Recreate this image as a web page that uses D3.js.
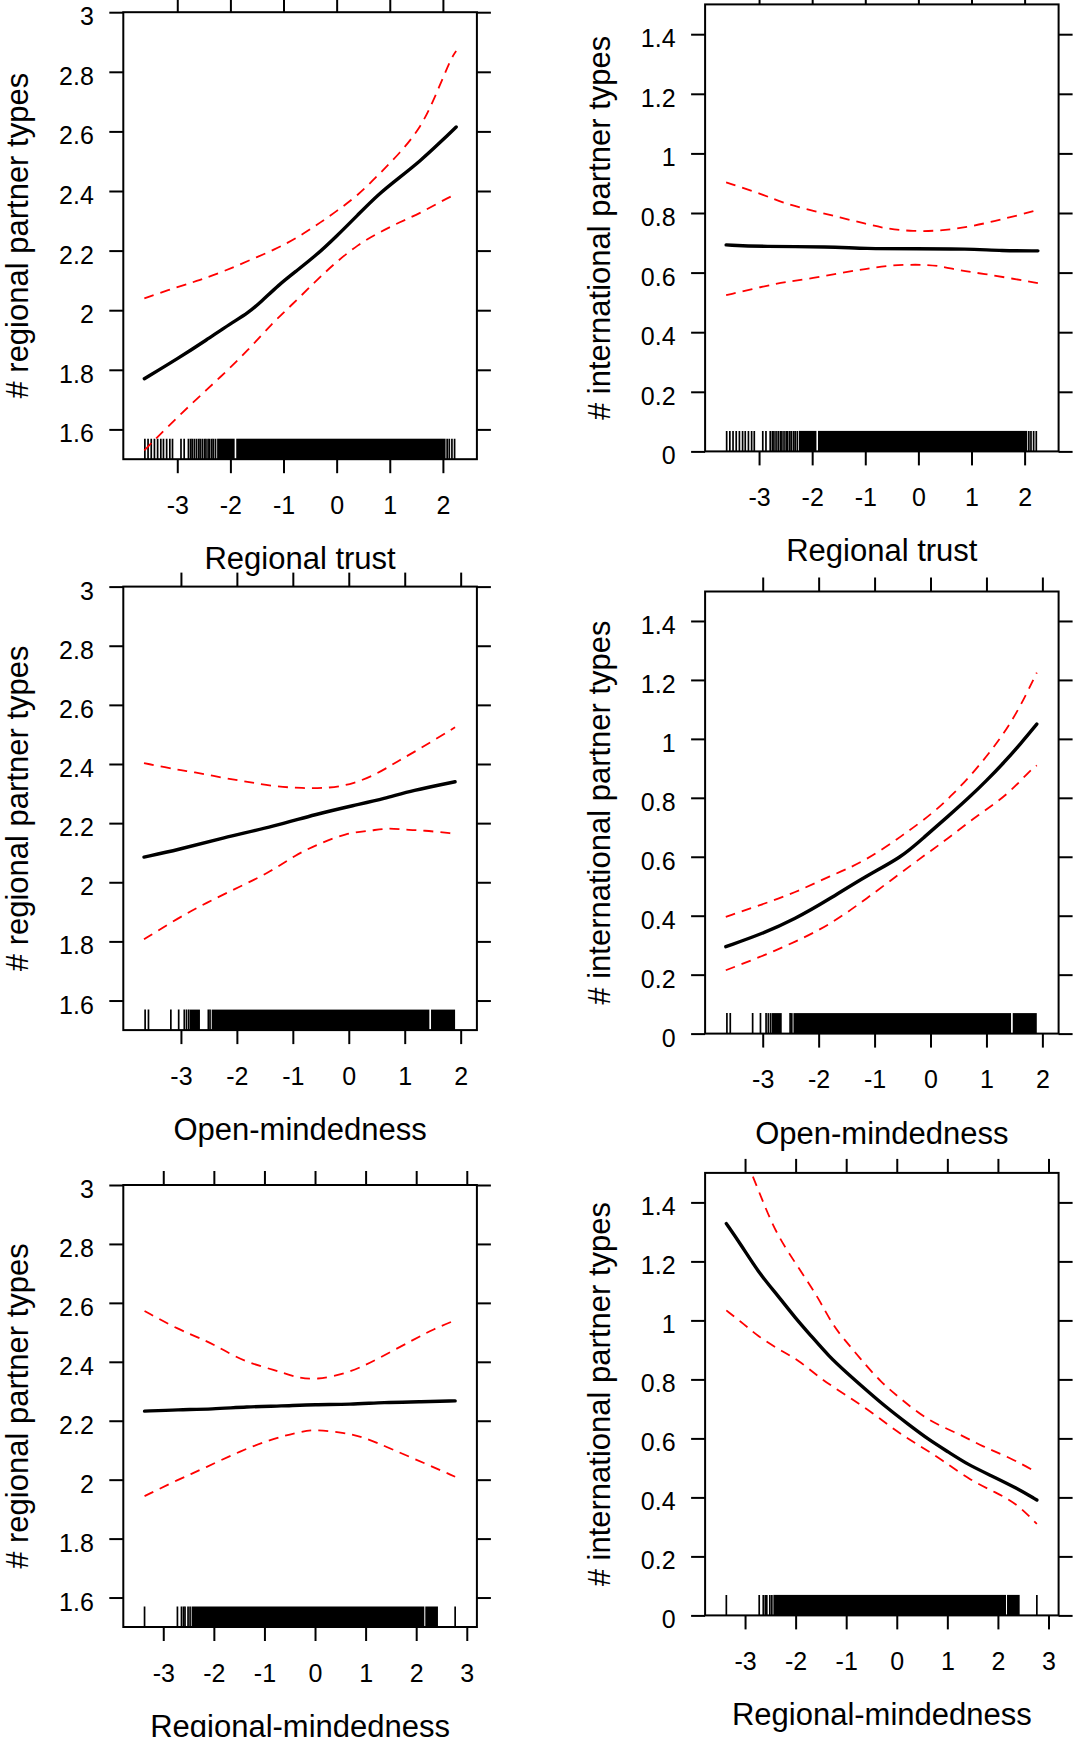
<!DOCTYPE html>
<html>
<head>
<meta charset="utf-8">
<script src="https://cdn.jsdelivr.net/npm/d3@7"></script>
<style>
  body { margin: 0; background: #fff; }
</style>
</head>
<body>
<div id="chart"></div>
<script>
// tick labels
var trustTicks = [-3, -2, -1, 0, 1, 2];
var openTicks = [-3, -2, -1, 0, 1, 2];
var regmindTicks = [-3, -2, -1, 0, 1, 2, 3];
var regionalYTicks = [1.6, 1.8, 2, 2.2, 2.4, 2.6, 2.8, 3];
var internationalYTicks = [0, 0.2, 0.4, 0.6, 0.8, 1, 1.2, 1.4];

// regional trust -> # regional partner types  [x, y]
var trustRegFit = [[-3.62,1.77],[-2.97,1.84],[-2.45,1.90],[-2.00,1.955],[-1.67,1.99],[-1.41,2.03],[-1.09,2.085],[-0.77,2.13],[-0.38,2.185],[-0.02,2.245],[0.40,2.32],[0.79,2.39],[1.18,2.445],[1.57,2.50],[1.96,2.565],[2.25,2.615]];
var trustRegUpper = [[-3.62,2.04],[-2.97,2.08],[-2.58,2.10],[-2.13,2.13],[-1.67,2.165],[-1.15,2.205],[-0.77,2.24],[-0.38,2.285],[-0.02,2.33],[0.40,2.385],[0.79,2.455],[1.18,2.525],[1.57,2.61],[1.83,2.705],[2.15,2.845],[2.25,2.87]];
var trustRegLower = [[-3.62,1.53],[-3.23,1.60],[-2.71,1.69],[-2.19,1.775],[-1.67,1.865],[-1.22,1.955],[-0.83,2.02],[-0.38,2.10],[-0.02,2.16],[0.40,2.22],[0.79,2.26],[1.18,2.295],[1.57,2.325],[1.96,2.365],[2.25,2.39]];

// regional trust -> # international partner types
var trustIntFit = [[-3.62,0.693],[-2.94,0.687],[-1.66,0.687],[-1.02,0.680],[-0.04,0.680],[0.92,0.680],[1.57,0.673],[2.25,0.673]];
var trustIntUpper = [[-3.62,0.903],[-2.94,0.863],[-2.49,0.830],[-1.98,0.807],[-1.47,0.785],[-1.00,0.764],[-0.62,0.748],[-0.17,0.739],[0.35,0.739],[0.92,0.752],[1.44,0.773],[1.89,0.793],[2.25,0.810]];
var trustIntLower = [[-3.62,0.524],[-2.94,0.553],[-2.49,0.569],[-1.98,0.581],[-1.47,0.599],[-1.00,0.612],[-0.55,0.625],[-0.04,0.627],[0.35,0.625],[0.80,0.606],[1.24,0.596],[1.76,0.580],[2.25,0.565]];

// open-mindedness -> # regional partner types
var openRegFit = [[-3.66,2.085],[-3.05,2.11],[-2.25,2.15],[-1.33,2.19],[-0.59,2.23],[0.09,2.26],[0.64,2.283],[1.13,2.31],[1.90,2.34]];
var openRegUpper = [[-3.66,2.403],[-3.05,2.38],[-2.80,2.374],[-2.25,2.353],[-1.82,2.34],[-1.33,2.324],[-0.84,2.318],[-0.34,2.318],[0.09,2.333],[0.52,2.368],[0.89,2.411],[1.25,2.449],[1.90,2.524]];
var openRegLower = [[-3.66,1.807],[-3.05,1.879],[-2.56,1.929],[-1.94,1.986],[-1.39,2.036],[-0.96,2.092],[-0.53,2.13],[-0.04,2.167],[0.39,2.174],[0.70,2.184],[1.01,2.177],[1.32,2.176],[1.90,2.164]];

// open-mindedness -> # international partner types
var openIntFit = [[-3.66,0.295],[-3.03,0.337],[-2.42,0.389],[-1.81,0.456],[-1.14,0.537],[-0.53,0.596],[-0.10,0.669],[0.32,0.738],[0.69,0.801],[1.00,0.858],[1.30,0.917],[1.61,0.983],[1.90,1.05]];
var openIntUpper = [[-3.66,0.396],[-3.03,0.437],[-2.42,0.478],[-1.81,0.534],[-1.20,0.581],[-0.47,0.676],[0.02,0.745],[0.38,0.807],[0.81,0.895],[1.18,0.983],[1.54,1.084],[1.90,1.225]];
var openIntLower = [[-3.66,0.215],[-3.03,0.261],[-2.42,0.311],[-1.81,0.368],[-1.20,0.450],[-0.59,0.537],[-0.10,0.606],[0.32,0.663],[0.87,0.745],[1.36,0.807],[1.76,0.889],[1.90,0.91]];

// regional-mindedness -> # regional partner types
var regmindRegFit = [[-3.37,2.2325],[-2.71,2.2375],[-2.03,2.239],[-1.35,2.2475],[-0.67,2.25],[0.01,2.255],[0.69,2.255],[1.37,2.2625],[2.05,2.264],[2.77,2.2675]];
var regmindRegUpper = [[-3.37,2.5725],[-2.71,2.51],[-2.16,2.4725],[-1.82,2.441],[-1.35,2.3975],[-0.80,2.3725],[-0.39,2.3475],[0.01,2.3375],[0.69,2.3625],[1.24,2.41],[1.92,2.4725],[2.33,2.51],[2.77,2.541]];
var regmindRegLower = [[-3.37,1.944],[-2.71,2.0],[-2.16,2.041],[-1.48,2.0975],[-0.80,2.141],[-0.26,2.164],[0.01,2.17],[0.56,2.16],[0.97,2.144],[1.51,2.104],[2.19,2.054],[2.77,2.01]];

// regional-mindedness -> # international partner types
var regmindIntFit = [[-3.37,1.328],[-3.09,1.259],[-2.72,1.159],[-2.35,1.084],[-2.01,1.009],[-1.67,0.943],[-1.34,0.878],[-1.00,0.824],[-0.59,0.762],[-0.19,0.703],[0.22,0.649],[0.62,0.597],[1.03,0.553],[1.40,0.512],[1.84,0.476],[2.38,0.431],[2.77,0.391]];
var regmindIntUpper = [[-3.37,1.70],[-2.87,1.50],[-2.62,1.39],[-2.35,1.284],[-1.94,1.178],[-1.54,1.074],[-1.27,0.984],[-1.00,0.928],[-0.73,0.872],[-0.32,0.791],[0.08,0.734],[0.62,0.659],[1.23,0.616],[1.70,0.572],[2.24,0.535],[2.77,0.485]];
var regmindIntLower = [[-3.37,1.034],[-3.02,0.987],[-2.75,0.947],[-2.35,0.903],[-1.94,0.866],[-1.47,0.797],[-1.00,0.747],[-0.46,0.684],[0.01,0.622],[0.42,0.578],[0.89,0.528],[1.43,0.460],[1.97,0.416],[2.38,0.378],[2.77,0.310]];

// rugs: single ticks and stretches that print as solid black
var trustRugTicks = [-3.61,-3.55,-3.49,-3.43,-3.37,-3.31,-3.26,-3.20,-3.14,-3.09,-2.93,-2.87,-2.79,-2.75,-2.72,-2.68,-2.64,-2.60,-2.57,-2.53,-2.49,-2.46,-2.42,-2.39,-2.35,-2.32,-2.28,2.08,2.12,2.17,2.22];
var trustRugBands = [[-2.25,-1.92],[-1.89,2.05]];
var openRugTicks = [-3.64,-3.58,-3.18,-3.04,-2.94,-2.90,-2.86,-2.51,-2.48];
var openRugBands = [[-2.84,-2.66],[-2.45,1.44],[1.47,1.90]];
var regmindRugTicks = [-3.37,-2.72,-2.64,-2.60,-2.57,-2.51,-2.47,2.77];
var regmindRugBands = [[-2.44,2.16],[2.18,2.43]];

var svgWidth = 1075;
var svgHeight = 1737;
var font = '"Liberation Sans", Arial, sans-serif';
var tickLen = 14;

var svg = d3.select("#chart")
    .append("svg")
    .attr("width", svgWidth)
    .attr("height", svgHeight)
    .style("background", "#fff");

// box of every panel, in page pixels
var panels = [
  {left: 123.3, top: 12.2, w: 353.6, h: 447, xDomain: [-4.016, 2.64], yDomain: [1.5, 3], xTicks: trustTicks, yTicks: regionalYTicks,
   fit: trustRegFit, upper: trustRegUpper, lower: trustRegLower, rugTicks: trustRugTicks, rugBands: trustRugBands,
   xLabel: "Regional trust", yLabel: "# regional partner types"},
  {left: 705.1, top: 4.4, w: 353.5, h: 447, xDomain: [-4.016, 2.64], yDomain: [0, 1.5], xTicks: trustTicks, yTicks: internationalYTicks,
   fit: trustIntFit, upper: trustIntUpper, lower: trustIntLower, rugTicks: trustRugTicks, rugBands: trustRugBands,
   xLabel: "Regional trust", yLabel: "# international partner types"},
  {left: 123.3, top: 586.6, w: 353.6, h: 443.5, xDomain: [-4.03, 2.29], yDomain: [1.5, 3], xTicks: openTicks, yTicks: regionalYTicks,
   fit: openRegFit, upper: openRegUpper, lower: openRegLower, rugTicks: openRugTicks, rugBands: openRugBands,
   xLabel: "Open-mindedness", yLabel: "# regional partner types"},
  {left: 705.1, top: 591.5, w: 353.5, h: 442.1, xDomain: [-4.03, 2.29], yDomain: [0, 1.5], xTicks: openTicks, yTicks: internationalYTicks,
   fit: openIntFit, upper: openIntUpper, lower: openIntLower, rugTicks: openRugTicks, rugBands: openRugBands,
   xLabel: "Open-mindedness", yLabel: "# international partner types"},
  {left: 123.3, top: 1185, w: 353.6, h: 442, xDomain: [-3.79, 3.2], yDomain: [1.5, 3], xTicks: regmindTicks, yTicks: regionalYTicks,
   fit: regmindRegFit, upper: regmindRegUpper, lower: regmindRegLower, rugTicks: regmindRugTicks, rugBands: regmindRugBands,
   xLabel: "Regional-mindedness", yLabel: "# regional partner types"},
  {left: 705.1, top: 1172.9, w: 353.5, h: 442.5, xDomain: [-3.79, 3.2], yDomain: [0, 1.5], xTicks: regmindTicks, yTicks: internationalYTicks,
   fit: regmindIntFit, upper: regmindIntUpper, lower: regmindIntLower, rugTicks: regmindRugTicks, rugBands: regmindRugBands,
   xLabel: "Regional-mindedness", yLabel: "# international partner types"}
];

function styleAxis(sel) {
  sel.select(".domain").remove();
  sel.selectAll(".tick line").attr("stroke", "#000").attr("stroke-width", 2);
  sel.selectAll(".tick text")
      .attr("fill", "#000")
      .style("font-family", font)
      .style("font-size", "25px");
}

// plain hyphen for negatives, like the original
var plain = d => String(d);

panels.forEach(function(p, i) {
  var g = svg.append("g")
      .attr("transform", `translate(${p.left}, ${p.top})`);

  var x = d3.scaleLinear().domain(p.xDomain).range([0, p.w]);
  var y = d3.scaleLinear().domain(p.yDomain).range([p.h, 0]);

  g.append("clipPath").attr("id", "clip" + i)
    .append("rect").attr("width", p.w).attr("height", p.h);

  // axes on four sides, labels only left and bottom
  g.append("g")
      .attr("transform", `translate(0, ${p.h})`)
      .call(d3.axisBottom(x).tickValues(p.xTicks).tickSize(tickLen).tickSizeOuter(0).tickPadding(23).tickFormat(plain))
      .call(styleAxis);
  g.append("g")
      .call(d3.axisTop(x).tickValues(p.xTicks).tickSize(tickLen).tickSizeOuter(0).tickFormat(""))
      .call(styleAxis);
  var left = g.append("g")
      .call(d3.axisLeft(y).tickValues(p.yTicks).tickSize(tickLen).tickSizeOuter(0).tickPadding(15.5).tickFormat(plain))
      .call(styleAxis);
  left.selectAll(".tick text").attr("dy", "0.5em");
  g.append("g")
      .attr("transform", `translate(${p.w}, 0)`)
      .call(d3.axisRight(y).tickValues(p.yTicks).tickSize(tickLen).tickSizeOuter(0).tickFormat(""))
      .call(styleAxis);

  // rug
  var rug = g.append("g").attr("clip-path", `url(#clip${i})`);
  rug.selectAll("line")
    .data(p.rugTicks)
    .enter()
    .append("line")
    .attr("x1", d => x(d))
    .attr("x2", d => x(d))
    .attr("y1", p.h)
    .attr("y2", p.h - 20.5)
    .attr("stroke", "#000")
    .attr("stroke-width", 1.7);
  rug.selectAll("rect")
    .data(p.rugBands)
    .enter()
    .append("rect")
    .attr("x", d => x(d[0]))
    .attr("width", d => x(d[1]) - x(d[0]))
    .attr("y", p.h - 20.5)
    .attr("height", 20.5)
    .attr("fill", "#000");

  // curves
  var line = d3.line()
      .x(d => x(d[0]))
      .y(d => y(d[1]))
      .curve(d3.curveBasis);
  var curves = g.append("g").attr("clip-path", `url(#clip${i})`);
  [p.upper, p.lower].forEach(function(band) {
    curves.append("path")
      .attr("d", line(band))
      .attr("fill", "none")
      .attr("stroke", "#ff0000")
      .attr("stroke-width", 1.8)
      .attr("stroke-dasharray", "10,7");
  });
  curves.append("path")
    .attr("d", line(p.fit))
    .attr("fill", "none")
    .attr("stroke", "#000")
    .attr("stroke-width", 3.4)
    .attr("stroke-linecap", "round");

  // box
  g.append("rect")
    .attr("width", p.w)
    .attr("height", p.h)
    .attr("fill", "none")
    .attr("stroke", "#000")
    .attr("stroke-width", 2);

  // axis titles
  g.append("text")
    .attr("x", p.w / 2)
    .attr("y", p.h + 110)
    .attr("text-anchor", "middle")
    .style("font-family", font)
    .style("font-size", "31px")
    .text(p.xLabel);
  g.append("text")
    .attr("transform", `translate(-95, ${p.h / 2}) rotate(-90)`)
    .attr("text-anchor", "middle")
    .style("font-family", font)
    .style("font-size", "31px")
    .text(p.yLabel);
});
</script>
</body>
</html>
